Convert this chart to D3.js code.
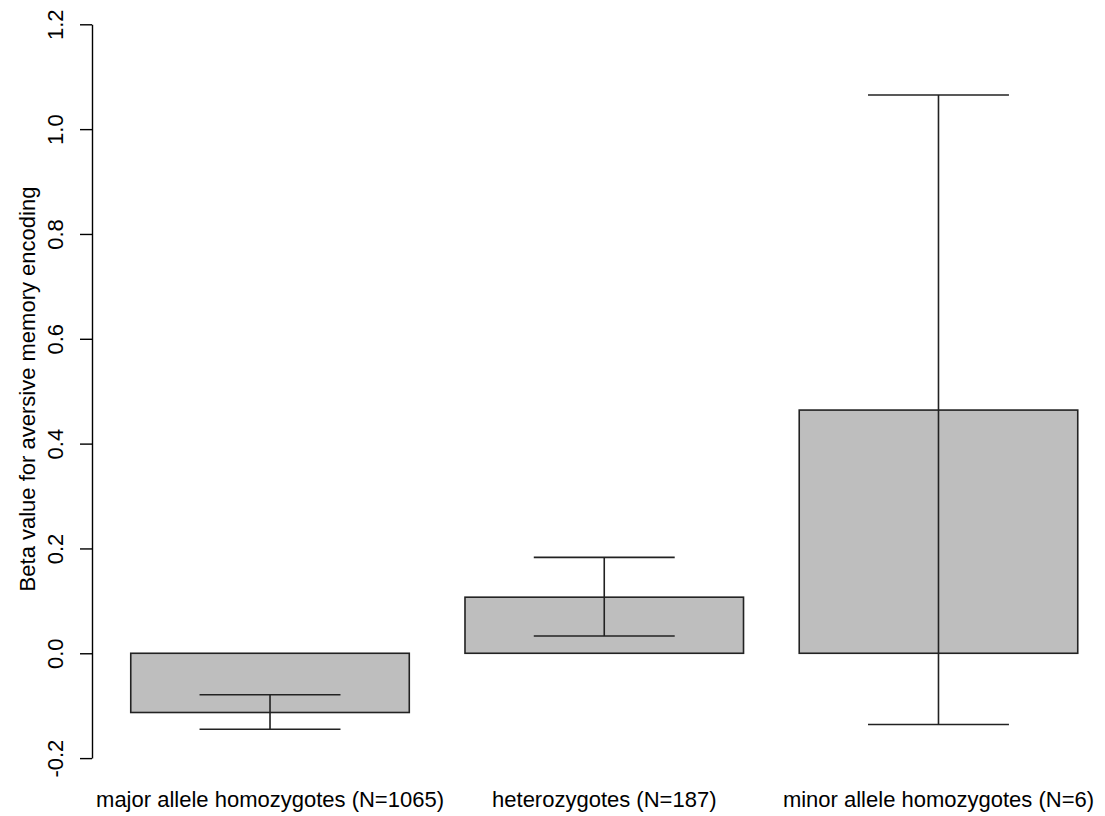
<!DOCTYPE html>
<html>
<head>
<meta charset="utf-8">
<script src="https://cdn.jsdelivr.net/npm/d3@7"></script>
<style>
  body { margin: 0; background: #fff; }
  text { font-family: "Liberation Sans", Arial, sans-serif; fill: #000; }
</style>
</head>
<body>
<div class="chart-container"></div>
<script>
const categories = [
  'major allele homozygotes (N=1065)',
  'heterozygotes (N=187)',
  'minor allele homozygotes (N=6)'
];
const betaMeans = [-0.113, 0.107, 0.464];
const errUpper = [-0.079, 0.183, 1.065];
const errLower = [-0.145, 0.033, -0.136];
const yTicks = [-0.2, 0.0, 0.2, 0.4, 0.6, 0.8, 1.0, 1.2];
const yTitle = 'Beta value for aversive memory encoding';

const width = 1105;
const height = 816;

const data = categories.map((c, i) => ({
  name: c, mean: betaMeans[i], hi: errUpper[i], lo: errLower[i]
}));

const svg = d3.select('.chart-container')
  .append('svg')
  .attr('width', width)
  .attr('height', height);

// Scales
const x = d3.scaleBand()
  .domain(categories)
  .range([102.9, 1105.6])
  .paddingInner(1 / 6)
  .paddingOuter(1 / 12);

const y = d3.scaleLinear()
  .domain([-0.2, 1.2])
  .range([758.1, 24.3]);

// Bars
svg.selectAll('.bar')
  .data(data)
  .enter().append('rect')
  .attr('class', 'bar')
  .attr('x', d => x(d.name))
  .attr('width', x.bandwidth())
  .attr('y', d => y(Math.max(0, d.mean)))
  .attr('height', d => Math.abs(y(d.mean) - y(0)))
  .attr('fill', '#bebebe')
  .attr('stroke', '#222')
  .attr('stroke-width', 1.6);

// Error bars
const capHalf = x.bandwidth() * 0.253;
const err = svg.selectAll('.err')
  .data(data)
  .enter().append('g')
  .attr('class', 'err')
  .attr('stroke', '#222')
  .attr('stroke-width', 1.6);

err.append('line')
  .attr('x1', d => x(d.name) + x.bandwidth() / 2)
  .attr('x2', d => x(d.name) + x.bandwidth() / 2)
  .attr('y1', d => y(d.lo))
  .attr('y2', d => y(d.hi));

err.append('line')
  .attr('x1', d => x(d.name) + x.bandwidth() / 2 - capHalf)
  .attr('x2', d => x(d.name) + x.bandwidth() / 2 + capHalf)
  .attr('y1', d => y(d.hi))
  .attr('y2', d => y(d.hi));

err.append('line')
  .attr('x1', d => x(d.name) + x.bandwidth() / 2 - capHalf)
  .attr('x2', d => x(d.name) + x.bandwidth() / 2 + capHalf)
  .attr('y1', d => y(d.lo))
  .attr('y2', d => y(d.lo));

// Y axis (R style: rotated labels)
const yAxis = d3.axisLeft(y)
  .tickValues(yTicks)
  .tickSize(12)
  .tickSizeOuter(0)
  .tickFormat(d => d.toFixed(1));

const yg = svg.append('g')
  .attr('transform', 'translate(92,0)')
  .call(yAxis);

yg.select('.domain').attr('stroke', '#000').attr('stroke-width', 1.4);
yg.selectAll('.tick line').attr('stroke', '#000').attr('stroke-width', 1.4);
yg.selectAll('.tick text')
  .attr('transform', 'rotate(-90)')
  .attr('x', 0)
  .attr('y', -29)
  .attr('dy', 0)
  .attr('text-anchor', 'middle')
  .style('font-size', '22px')
  .style('font-family', '"Liberation Sans", Arial, sans-serif')
  .attr('fill', '#000');

// Y title
svg.append('text')
  .attr('transform', 'translate(35,389) rotate(-90)')
  .attr('text-anchor', 'middle')
  .style('font-size', '22px')
  .text(yTitle);

// Category labels
svg.selectAll('.cat')
  .data(data)
  .enter().append('text')
  .attr('class', 'cat')
  .attr('x', d => x(d.name) + x.bandwidth() / 2)
  .attr('y', 806.7)
  .attr('text-anchor', 'middle')
  .style('font-size', '22px')
  .text(d => d.name);
</script>
</body>
</html>
